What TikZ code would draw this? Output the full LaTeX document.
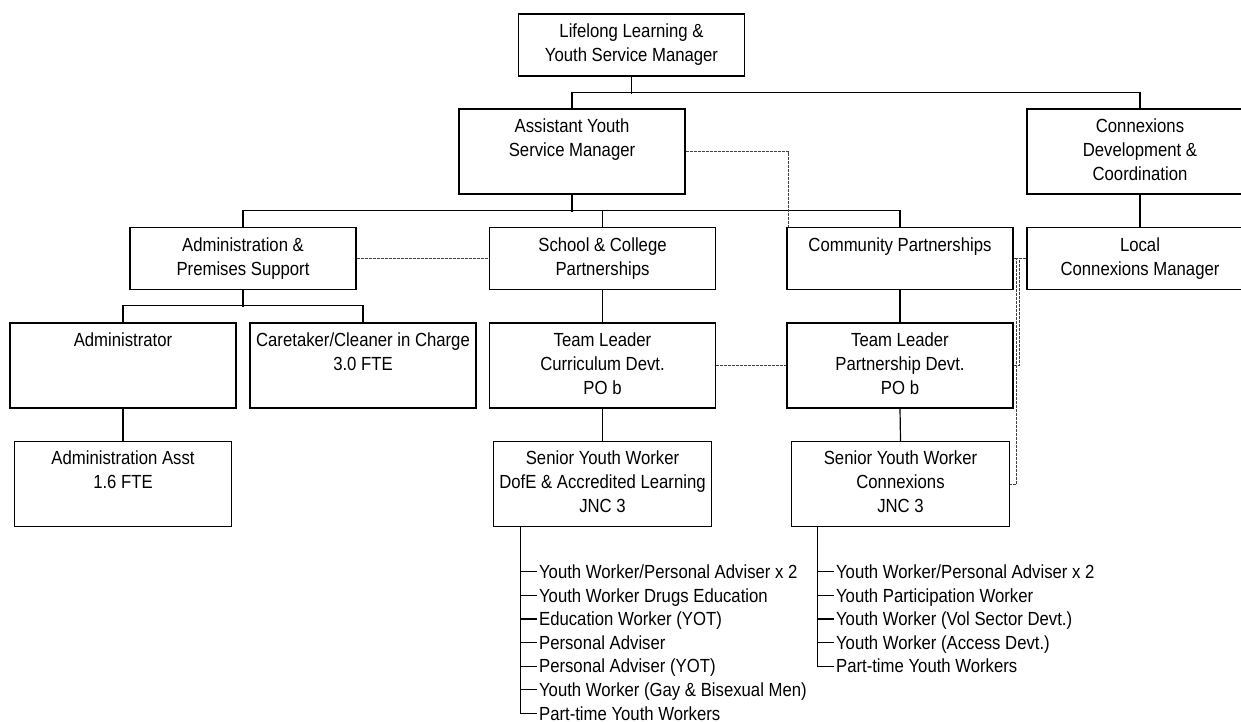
\documentclass[tikz,border=0pt]{standalone}
\usepackage{fontspec}
\setmainfont{Liberation Sans}[FakeStretch=0.88]
\usepackage{tikz}
\tikzset{ org_box/.style = {rectangle, draw, align=center, inner sep=0pt, minimum width=113pt, minimum height=42.5pt, font=\fontsize{9.5}{12}\selectfont} }
\tikzset{ flat_box/.style = {org_box, minimum height=30.75pt} }
\tikzset{ small_box/.style = {org_box, minimum width=108.75pt} }
\tikzset{ list_item/.style = {anchor=west, inner xsep=0.75pt, inner ysep=0pt, text height=6.8pt, text depth=0pt, font=\fontsize{9.5}{12}\selectfont} }
\tikzset{ dot_link/.style = {line width=0.5pt, black!75, dash pattern=on 1.5pt off 0.5pt} }

\begin{document}
\begin{tikzpicture}[x=0.5pt,y=-0.5pt,line width=0.6pt]
        \useasboundingbox (0,0) rectangle (1241,722);
        \node[flat_box, minimum height=31pt] (lead) at (631.5,45) {\strut Lifelong Learning \&\\Youth Service Manager\strut};
        \node[org_box] (asst) at (572,151.5) {\strut Assistant Youth\\Service Manager\\~\strut};
        \node[org_box] (cdev) at (1140,151.5) {\strut Connexions\\Development \&\\Coordination\strut};
        \node[flat_box] (admin) at (243,258.5) {\strut Administration \&\\Premises Support\strut};
        \node[flat_box] (school) at (602.5,258.5) {\strut School \& College\\Partnerships\strut};
        \node[flat_box] (comm) at (900,258.5) {\strut Community Partnerships\\~\strut};
        \node[flat_box] (lcm) at (1140,258.5) {\strut Local\\Connexions Manager\strut};
        \node[org_box] (adm) at (123,365.5) {\strut Administrator\\~\\~\strut};
        \node[org_box] (care) at (363,365.5) {\strut Caretaker/Cleaner in Charge\\3.0 FTE\\~\strut};
        \node[org_box] (tlcd) at (602.5,365.5) {\strut Team Leader\\Curriculum Devt.\\PO b\strut};
        \node[org_box] (tlpd) at (900,365.5) {\strut Team Leader\\Partnership Devt.\\PO b\strut};
        \node[small_box] (asst2) at (123,484) {\strut Administration Asst\\1.6 FTE\\~\strut};
        \node[small_box] (sywd) at (602.5,484) {\strut Senior Youth Worker\\DofE \& Accredited Learning\\JNC 3\strut};
        \node[small_box] (sywc) at (900.5,484) {\strut Senior Youth Worker\\Connexions\\JNC 3\strut};
        \draw (lead.south) -- ++(0,17);
        \draw (asst.north) -- ++(0,-16) -| (cdev.north);
        \draw (asst.south) -- ++(0,17);
        \draw (admin.north) -- ++(0,-17) -| (comm.north);
        \draw (school.north) -- ++(0,-17);
        \draw (cdev.south) -- (lcm.north);
        \draw (admin.south) -- ++(0,17);
        \draw (adm.north) -- ++(0,-17) -| (care.north);
        \draw (adm.south) -- (asst2.north);
        \draw (school.south) -- (tlcd.north);
        \draw (tlcd.south) -- (sywd.north);
        \draw (comm.south) -- (tlpd.north);
        \draw (tlpd.south) -- (sywc.north);
        \draw[dot_link] (asst.east) -| ([xshift=1pt]comm.north west);
        \draw[dot_link] (admin.east) -- (school.west);
        \draw[dot_link] (tlcd.east) -- (tlpd.west);
        \draw[dot_link] (lcm.west) -- (comm.east);
        \draw[dot_link] (lcm.west) -- ++(-7,0) |- (tlpd.east);
        \draw[dot_link] (lcm.west) -- ++(-10,0) |- (sywc.east);
        \coordinate (dstem) at ([xshift=13.5pt]sywd.south west);
        \coordinate (cstem) at ([xshift=13pt]sywc.south west);
        \node[list_item] (d1) at (537,571.7) {Youth Worker/Personal Adviser x 2};
        \node[list_item] (d2) at (537,595.3) {Youth Worker Drugs Education};
        \node[list_item] (d3) at (537,618.9) {Education Worker (YOT)};
        \node[list_item] (d4) at (537,642.5) {Personal Adviser};
        \node[list_item] (d5) at (537,666.1) {Personal Adviser (YOT)};
        \node[list_item] (d6) at (537,689.7) {Youth Worker (Gay \& Bisexual Men)};
        \node[list_item] (d7) at (537,713.3) {Part-time Youth Workers};
        \node[list_item] (c1) at (834,571.7) {Youth Worker/Personal Adviser x 2};
        \node[list_item] (c2) at (834,595.3) {Youth Participation Worker};
        \node[list_item] (c3) at (834,618.9) {Youth Worker (Vol Sector Devt.)};
        \node[list_item] (c4) at (834,642.5) {Youth Worker (Access Devt.)};
        \node[list_item] (c5) at (834,666.1) {Part-time Youth Workers};
        \draw (dstem) |- (d7.west);
        \draw (dstem |- d1.west) -- (d1.west);
        \draw (dstem |- d2.west) -- (d2.west);
        \draw (dstem |- d3.west) -- (d3.west);
        \draw (dstem |- d4.west) -- (d4.west);
        \draw (dstem |- d5.west) -- (d5.west);
        \draw (dstem |- d6.west) -- (d6.west);
        \draw (cstem) |- (c5.west);
        \draw (cstem |- c1.west) -- (c1.west);
        \draw (cstem |- c2.west) -- (c2.west);
        \draw (cstem |- c3.west) -- (c3.west);
        \draw (cstem |- c4.west) -- (c4.west);
        \end{tikzpicture}
\end{document}
